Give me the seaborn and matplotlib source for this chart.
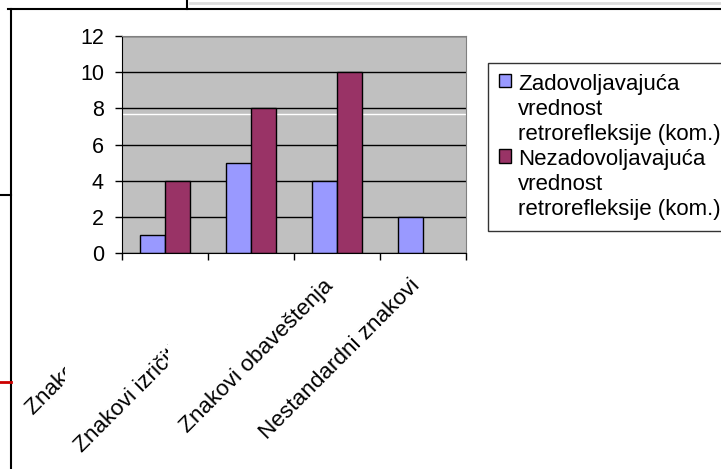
import matplotlib
matplotlib.use("Agg")
import matplotlib.pyplot as plt
from matplotlib.lines import Line2D
from matplotlib.transforms import Bbox, ScaledTranslation
import numpy as np
import pandas as pd
import seaborn as sns

plt.rcParams["font.family"] = ["Liberation Sans", "DejaVu Sans"]

# data
categories = ["Znakovi opasnosti", "Znakovi izričitih naredbi",
              "Znakovi obaveštenja", "Nestandardni znakovi"]
series = ["Zadovoljavajuća\nvrednost\nretrorefleksije (kom.)",
          "Nezadovoljavajuća\nvrednost\nretrorefleksije (kom.)"]
zadovoljavajuca = [1, 5, 4, 2]
nezadovoljavajuca = [4, 8, 10, np.nan]
colors = ["#9999FF", "#993366"]

df = pd.DataFrame({
    "kategorija": categories * 2,
    "serija": [series[0]] * 4 + [series[1]] * 4,
    "vrednost": zadovoljavajuca + nezadovoljavajuca,
}).dropna()

W, H = 721, 469
fig = plt.figure(figsize=(W / 100, H / 100), dpi=100)
ax = fig.add_axes([122 / W, 1 - 253 / H, 344 / W, 217 / H])

sns.barplot(data=df, x="kategorija", y="vrednost", hue="serija",
            order=categories, hue_order=series, palette=colors,
            saturation=1, width=0.57, edgecolor="black", linewidth=1.0, ax=ax)

ax.set_facecolor("#C0C0C0")
ax.set_ylim(0, 12)
ax.set_xlim(-0.5, 3.5)
ax.set_yticks(range(0, 13, 2))
ax.yaxis.grid(True, color="black", linewidth=1.0)
ax.set_axisbelow(True)
ax.axhline(7.7, color="white", linewidth=1.0, zorder=0.6)
ax.set_xlabel("")
ax.set_ylabel("")

for side in ["top", "right"]:
    ax.spines[side].set_color("#808080")
for side in ["left", "bottom"]:
    ax.spines[side].set_color("black")

ax.tick_params(axis="y", direction="out", length=5, width=1, labelsize=15.5, pad=8)
ax.tick_params(axis="x", which="major", length=0, labelsize=16.2, pad=16)
ax.set_xticks(np.arange(-0.5, 4, 1), minor=True)
ax.tick_params(axis="x", which="minor", direction="out", length=5, width=1)

labels = ax.get_xticklabels()
shift = ScaledTranslation(-14 / 100, 0, fig.dpi_scale_trans)
for lab in labels:
    lab.set_rotation(45)
    lab.set_ha("right")
    lab.set_va("top")
    lab.set_rotation_mode("anchor")
    lab.set_transform(lab.get_transform() + shift)
# the first two labels are partly covered in the original
for lab, xmax in zip(labels[:2], [65, 168]):
    lab.set_clip_box(Bbox.from_extents(0, 0, xmax, H))
    lab.set_clip_on(True)

leg = ax.legend(loc="upper left", bbox_to_anchor=(488 / W, 1 - 63 / H),
                bbox_transform=fig.transFigure, fontsize=16,
                frameon=True, fancybox=False, edgecolor="black",
                handlelength=0.55, handleheight=0.55, handletextpad=0.3,
                labelspacing=0.2, borderpad=0.5, borderaxespad=0)
leg.get_frame().set_linewidth(1.0)
for txt in leg.get_texts():
    txt.set_linespacing(1.24)
# square markers sit next to the first line of each entry
for column in leg._legend_handle_box.get_children():
    for row in column.get_children():
        row.align = "top"
for patch in leg.get_patches():
    patch.set_edgecolor("black")
    patch.set_linewidth(1.0)

# frame lines from the surrounding slide
def fig_line(x0, y0, x1, y1, color="black", lw=1.5):
    fig.add_artist(Line2D([x0 / W, x1 / W], [1 - y0 / H, 1 - y1 / H],
                          color=color, linewidth=lw, transform=fig.transFigure))

fig_line(8, 9, W, 9)
fig_line(187, 0, 187, 9)
fig_line(190, 3, W, 3, color="#DDDDDD", lw=2)
fig_line(11, 9, 11, H)
fig_line(0, 195, 11, 195)
fig_line(0, 382, 11, 382, color="#CC0000", lw=2)

fig.savefig("out.png", dpi=100)
